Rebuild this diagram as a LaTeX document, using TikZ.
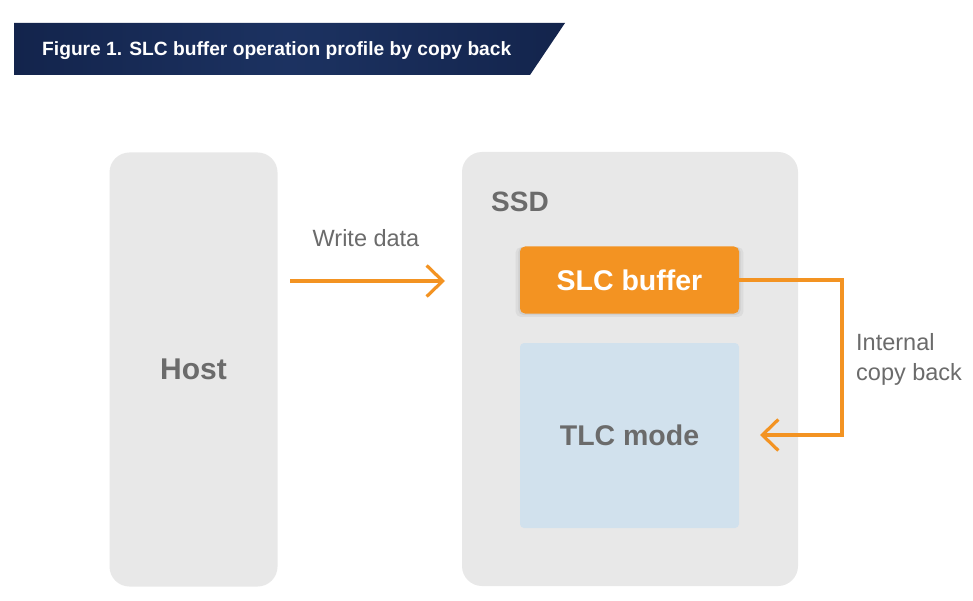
\documentclass[tikz,border=0pt]{standalone}
\usepackage{fontspec}
\setmainfont{Liberation Sans}
\usetikzlibrary{arrows.meta,shadows,calc}
\definecolor{navyL}{HTML}{13244C}
\definecolor{navyM}{HTML}{1C3261}
\definecolor{boxgray}{HTML}{E8E8E8}
\definecolor{txtgray}{HTML}{6B6B6B}
\definecolor{orng}{HTML}{F39322}
\definecolor{tlcblue}{HTML}{D1E1ED}
\tikzset{
  panel/.style={fill=boxgray, draw=none, rounded corners=20pt, inner sep=0pt},
  bigtxt/.style={font=\fontsize{29}{34}\selectfont\bfseries, text=txtgray},
  slcbox/.style={fill=orng, draw=none, rounded corners=5pt, inner sep=0pt,
     text=white, font=\fontsize{28.5}{33}\selectfont\bfseries,
     general shadow={fill=black, opacity=0.05, shadow scale=1.04, shadow yshift=-2pt},
     general shadow={fill=black, opacity=0.06, shadow scale=1.015, shadow yshift=-1pt}},
  tlcbox/.style={fill=tlcblue, draw=none, rounded corners=4pt, inner sep=0pt,
     text=txtgray, font=\fontsize{28.5}{33}\selectfont\bfseries},
  lbl/.style={font=\fontsize{23.5}{30}\selectfont, text=txtgray, inner sep=0pt},
  flow/.style={draw=orng, line width=3.2pt,
     -{Straight Barb[length=16pt,width=31pt,line width=3.2pt]}}
}
\begin{document}
\begin{tikzpicture}[x=1pt,y=-1pt]
\useasboundingbox (0,0) rectangle (973,601);
\fill[white] (0,0) rectangle (973,601);
% title banner
\shade[left color=navyL, right color=navyL, middle color=navyM]
  (14,23) -- (565,23) -- (530,75) -- (14,75) -- cycle;
\node[anchor=base west, inner sep=0pt, text=white,
      font=\fontsize{19.2}{22}\selectfont\bfseries] (title) at (42,56)
  {Figure 1. SLC buffer operation profile by copy back};
% panels
\node[panel, minimum width=168pt, minimum height=434pt, bigtxt,
      font=\fontsize{30}{34}\selectfont\bfseries] (host) at (193.5,369.5) {Host};
\node[panel, minimum width=336pt, minimum height=434pt] (ssd) at (630,369) {};
\node[bigtxt, anchor=base west, inner sep=0pt,
      font=\fontsize{28}{33}\selectfont\bfseries] (ssdlbl) at (491,212) {SSD};
\node[slcbox, minimum width=219pt, minimum height=67pt] (slc) at (629.5,280) {SLC buffer};
\node[tlcbox, minimum width=219pt, minimum height=185pt] (tlc) at (629.5,435.5) {TLC mode};
% write data
\coordinate (w1) at (290,281);
\coordinate (w2) at (445,281);
\draw[flow] (w1) -- (w2);
\node[lbl, anchor=base] (wlbl) at (366,247) {Write data};
% internal copy back
\coordinate (cbcorner) at (842,280);
\coordinate (cbtip) at (760,435);
\draw[flow] (slc.east) -- (cbcorner) |- (cbtip);
\node[lbl, anchor=base west] (cb1) at (856,350) {Internal};
\node[lbl, anchor=base west] (cb2) at (856,380) {copy back};
\end{tikzpicture}
\end{document}
